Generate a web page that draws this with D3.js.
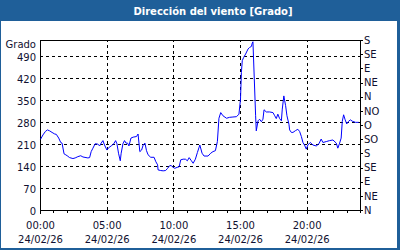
<!DOCTYPE html>
<html>
<head>
<meta charset="utf-8">
<script src="https://cdn.jsdelivr.net/npm/d3@7"></script>
<style>
    body { margin: 0; background: #fff; }
    text { font-family: 'DejaVu Sans', sans-serif; }
</style>
</head>
<body>
<svg width="400" height="250"></svg>
<script>
// minutes since 00:00 on 24/02/26
const minutes = [
    0, 11, 22, 31, 41, 52, 64, 71, 82, 91,
    97, 106, 111, 120, 131, 146, 156, 168, 181, 191,
    213, 221, 228, 236, 246, 258, 266, 273, 281, 288,
    299, 306, 318, 330, 338, 344, 351, 359, 363, 371,
    378, 385, 392, 398, 407, 417, 432, 439, 447, 455,
    462, 470, 477, 484, 496, 511, 519, 527, 529, 541,
    552, 563, 572, 582, 589, 597, 604, 615, 624, 631,
    642, 652, 661, 669, 679, 687, 697, 706, 717, 727,
    736, 754, 766, 776, 787, 796, 803, 811, 821, 837,
    851, 866, 882, 893, 900, 904, 908, 914, 923, 934,
    941, 949, 953, 956, 968, 971, 979, 986, 994, 1001,
    1006, 1016, 1031, 1046, 1054, 1061, 1068, 1076, 1084, 1088,
    1095, 1099, 1103, 1109, 1118, 1121, 1129, 1136, 1148, 1158,
    1166, 1174, 1181, 1188, 1196, 1203, 1214, 1226, 1241, 1253,
    1263, 1271, 1286, 1301, 1316, 1331, 1338, 1346, 1353, 1358,
    1364, 1371, 1378, 1386, 1394, 1405, 1418, 1432
];

const degrees = [
    226, 240, 251, 256, 253, 248, 243, 242, 230, 216,
    214, 180, 178, 174, 168, 165, 167, 171, 174, 170,
    167, 168, 187, 198, 212, 211, 205, 214, 222, 208,
    192, 199, 205, 212, 222, 212, 182, 158, 182, 212,
    222, 214, 214, 205, 230, 233, 235, 243, 187, 192,
    208, 214, 190, 177, 169, 169, 155, 145, 129, 127,
    126, 127, 134, 143, 142, 137, 134, 137, 139, 161,
    163, 163, 158, 168, 158, 150, 163, 184, 208, 182,
    173, 173, 182, 187, 190, 219, 293, 311, 301, 293,
    296, 297, 298, 306, 354, 438, 476, 486, 497, 513,
    518, 521, 532, 536, 301, 253, 285, 290, 282, 290,
    320, 313, 313, 311, 301, 292, 306, 292, 285, 322,
    364, 348, 333, 301, 274, 256, 248, 248, 254, 258,
    251, 235, 216, 208, 195, 208, 216, 208, 205, 212,
    227, 216, 219, 222, 224, 214, 198, 214, 230, 283,
    304, 288, 275, 283, 288, 283, 280, 280
];

const timeTicks = ['00:00', '05:00', '10:00', '15:00', '20:00'];
const dateLabel = '24/02/26';
const degreeTicks = [0, 70, 140, 210, 280, 350, 420, 490];
const compassLabels = ['N', 'NE', 'E', 'SE', 'S', 'SO', 'O', 'NO', 'N', 'NE', 'E', 'SE', 'S'];

const title = 'Dirección del viento [Grado]';
const unit = 'Grado';

const width = 400;
const height = 250;
const plotLeft = 40;
const plotRight = 360;
const plotTop = 40;
const plotBottom = 210;
const textColor = '#101030';

const toMinutes = (s) => +s.slice(0, 2) * 60 + +s.slice(3);

const xScale = d3.scaleLinear()
    .domain([0, 1440])
    .range([plotLeft, plotRight]);

const yScale = d3.scaleLinear()
    .domain([0, 540])
    .range([plotBottom, plotTop]);

const svg = d3.select('svg')
    .attr('width', width)
    .attr('height', height);

// window frame + title bar
svg.append('rect')
    .attr('width', width)
    .attr('height', height)
    .attr('fill', '#1f5f99');

svg.append('rect')
    .attr('x', 1)
    .attr('y', 21)
    .attr('width', 396)
    .attr('height', 227)
    .attr('fill', '#fff');

svg.append('text')
    .attr('x', 213)
    .attr('y', 15)
    .style('text-anchor', 'middle')
    .style('font-size', '10px')
    .style('font-weight', 'bold')
    .attr('fill', '#fff')
    .text(title);

// dashed grid
const yGrid = d3.axisLeft(yScale)
    .tickValues(degreeTicks.slice(1))
    .tickSize(-(plotRight - plotLeft))
    .tickFormat('');

const xGrid = d3.axisBottom(xScale)
    .tickValues(timeTicks.slice(1).map(toMinutes))
    .tickSize(-(plotBottom - plotTop))
    .tickFormat('');

svg.append('g')
    .attr('transform', `translate(${plotLeft}, 0)`)
    .call(yGrid)
    .call((g) => g.select('.domain').remove());

svg.append('g')
    .attr('transform', `translate(0, ${plotBottom})`)
    .call(xGrid)
    .call((g) => g.select('.domain').remove());

svg.selectAll('.tick line')
    .attr('stroke', '#000')
    .attr('stroke-dasharray', '3,3')
    .attr('shape-rendering', 'crispEdges');

// hourly minor ticks below the plot
const hourAxis = d3.axisBottom(xScale)
    .tickValues(d3.range(0, 1441, 60))
    .tickSize(3)
    .tickSizeOuter(0)
    .tickFormat('');

svg.append('g')
    .attr('transform', `translate(0, ${plotBottom})`)
    .call(hourAxis)
    .call((g) => g.select('.domain').remove())
    .selectAll('line')
        .attr('shape-rendering', 'crispEdges');

const xAxis = d3.axisBottom(xScale)
    .tickValues(timeTicks.map(toMinutes))
    .tickSize(4)
    .tickSizeOuter(0)
    .tickFormat((d, i) => timeTicks[i]);

svg.append('g')
    .attr('transform', `translate(0, ${plotBottom})`)
    .call(xAxis)
    .call((g) => g.select('.domain').remove())
    .call((g) => g.selectAll('line').attr('shape-rendering', 'crispEdges'))
    .call((g) => g.selectAll('text').each(function (d, i) {
        const t = d3.select(this)
            .attr('y', 0)
            .attr('dy', null)
            .attr('fill', textColor)
            .style('font-size', '10px')
            .text(null);
        t.append('tspan').attr('x', 0).attr('y', 19).text(timeTicks[i]);
        t.append('tspan').attr('x', 0).attr('y', 33).text(dateLabel);
    }));

const yAxis = d3.axisLeft(yScale)
    .tickValues(degreeTicks)
    .tickSize(0)
    .tickPadding(4);

svg.append('g')
    .attr('transform', `translate(${plotLeft}, 0)`)
    .call(yAxis)
    .call((g) => g.select('.domain').remove())
    .selectAll('text')
        .attr('dy', '0.45em')
        .attr('fill', textColor)
        .style('font-size', '10px');

const compassAxis = d3.axisRight(yScale)
    .tickValues(compassLabels.map((d, i) => i * 45))
    .tickSize(3)
    .tickSizeOuter(0)
    .tickPadding(1)
    .tickFormat((d, i) => compassLabels[i]);

svg.append('g')
    .attr('transform', `translate(${plotRight}, 0)`)
    .call(compassAxis)
    .call((g) => g.select('.domain').remove())
    .call((g) => g.selectAll('line').attr('shape-rendering', 'crispEdges'))
    .selectAll('text')
        .attr('fill', textColor)
        .style('font-size', '10px');

svg.append('text')
    .attr('x', 36)
    .attr('y', 48)
    .style('text-anchor', 'end')
    .style('font-size', '10px')
    .attr('fill', textColor)
    .text(unit);

// plot frame
svg.append('rect')
    .attr('x', plotLeft + 0.5)
    .attr('y', plotTop + 0.5)
    .attr('width', plotRight - plotLeft)
    .attr('height', plotBottom - plotTop)
    .attr('fill', 'none')
    .attr('stroke', '#000')
    .attr('shape-rendering', 'crispEdges');

const line = d3.line()
    .x((d, i) => xScale(minutes[i]) + 0.5)
    .y((d) => yScale(d) + 0.5);

svg.append('path')
    .datum(degrees)
    .attr('d', line)
    .attr('fill', 'none')
    .attr('stroke', '#0000ff')
    .attr('stroke-width', 1);
</script>
</body>
</html>
